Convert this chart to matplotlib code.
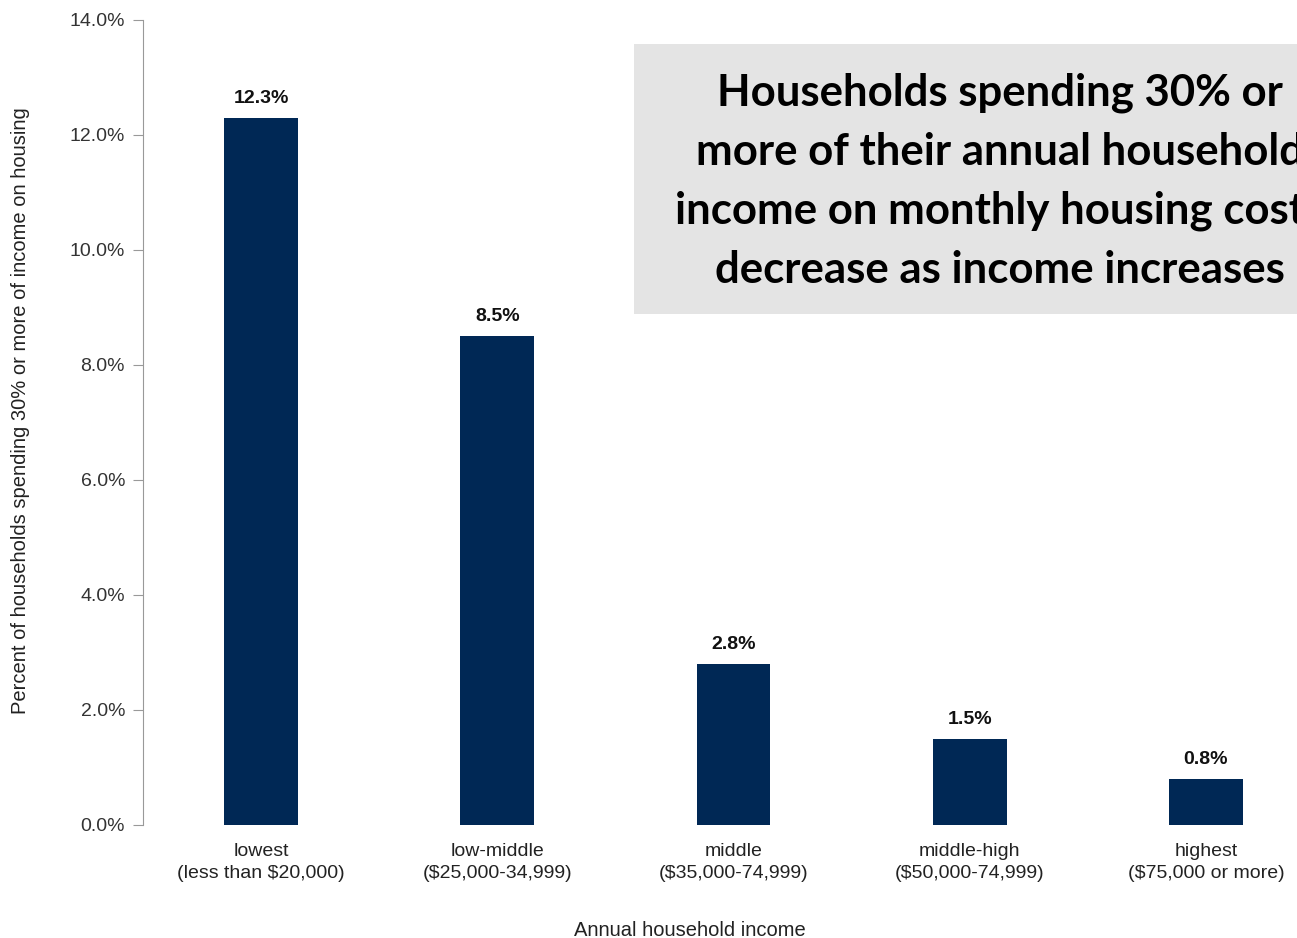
import matplotlib.pyplot as plt
from matplotlib.patches import Rectangle
import numpy as np

# data
groups = ["lowest\n(less than $20,000)", "low-middle\n($25,000-34,999)",
          "middle\n($35,000-74,999)", "middle-high\n($50,000-74,999)",
          "highest\n($75,000 or more)"]
pct = [12.3, 8.5, 2.8, 1.5, 0.8]
yticks = [0, 2, 4, 6, 8, 10, 12, 14]

title = ("Households spending 30% or\nmore of their annual household\n"
         "income on monthly housing costs\ndecrease as income increases")

plt.rcParams['font.family'] = ['Liberation Sans', 'DejaVu Sans']

fig = plt.figure(figsize=(12.97, 9.38), dpi=100)
# axes runs past the right edge, like the cropped original
ax = fig.add_axes([0.1103, 0.1205, 0.9105, 0.8582])

x = np.arange(len(pct))
ax.bar(x, pct, width=0.313, color='#002855')
for xi, v in zip(x, pct):
    ax.annotate(f"{v:.1f}%", (xi, v), xytext=(0, 8), textcoords='offset points',
                ha='center', va='bottom', fontsize=14, fontweight='bold', color='#111111')

ax.set_xlim(-0.5, 4.5)
ax.set_ylim(0, 14)
ax.set_yticks(yticks)
ax.set_yticklabels([f"{t:.1f}%" for t in yticks], fontsize=14, color='#333333')
ax.set_xticks(x)
ax.set_xticklabels(groups, fontsize=14, color='#222222', linespacing=1.4)
ax.tick_params(axis='x', length=0, pad=13)
ax.tick_params(axis='y', length=7, color='#999999', pad=6)
for s in ['top', 'right', 'bottom']:
    ax.spines[s].set_visible(False)
ax.spines['left'].set_color('#999999')

fig.text(0.532, 0.0085, "Annual household income", ha='center', va='center',
         fontsize=14.5, color='#222222')
fig.text(0.016, 0.562, "Percent of households spending 30% or more of income on housing",
         rotation=90, ha='center', va='center', fontsize=14.5, color='#222222')

# grey title box, cropped at the right edge
fig.patches.append(Rectangle((0.4888, 0.6652), 0.5644, 0.2879, transform=fig.transFigure,
                             facecolor='#E4E4E4', edgecolor='none', zorder=1))
fig.text(0.771, 0.8065, title, ha='center', va='center', fontsize=31.5, fontweight='bold',
         family=['Lato', 'DejaVu Sans'], linespacing=1.57, color='black', zorder=2)

fig.savefig("out.png", dpi=100)
